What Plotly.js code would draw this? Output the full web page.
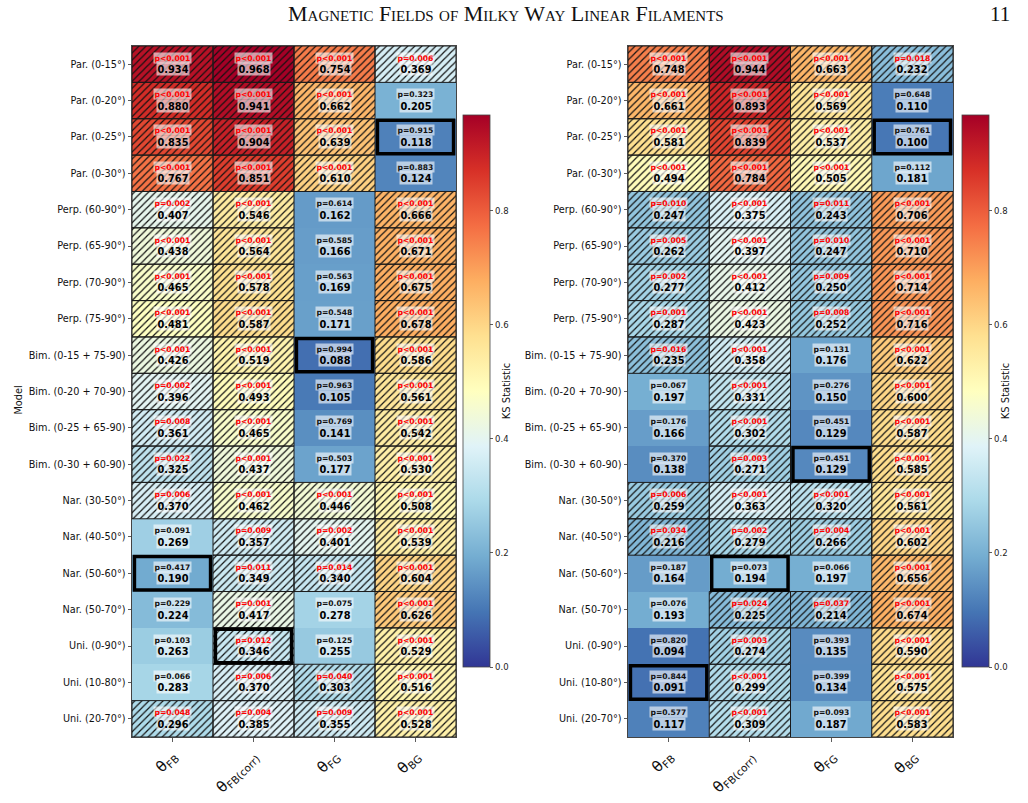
<!DOCTYPE html>
<html>
<head>
<meta charset="utf-8">
<script src="https://cdn.plot.ly/plotly-3.0.1.min.js"></script>
<style>
  html, body { margin: 0; padding: 0; background: #fff; }
  #chart { width: 1028px; height: 803px; }
</style>
</head>
<body>
<div id="chart"></div>
<script>
// Model families (rows) and angle comparisons (columns)
const models = [
  'Par. (0-15°)', 'Par. (0-20°)', 'Par. (0-25°)', 'Par. (0-30°)',
  'Perp. (60-90°)', 'Perp. (65-90°)', 'Perp. (70-90°)', 'Perp. (75-90°)',
  'Bim. (0-15 + 75-90)', 'Bim. (0-20 + 70-90)', 'Bim. (0-25 + 65-90)', 'Bim. (0-30 + 60-90)',
  'Nar. (30-50°)', 'Nar. (40-50°)', 'Nar. (50-60°)', 'Nar. (50-70°)',
  'Uni. (0-90°)', 'Uni. (10-80°)', 'Uni. (20-70°)'
];
const angleLabels = ['θ<sub>FB</sub>', 'θ<sub>FB(corr)</sub>', 'θ<sub>FG</sub>', 'θ<sub>BG</sub>'];

// KS statistic, left panel
const ksLeft = [
  [0.934, 0.968, 0.754, 0.369],
  [0.880, 0.941, 0.662, 0.205],
  [0.835, 0.904, 0.639, 0.118],
  [0.767, 0.851, 0.610, 0.124],
  [0.407, 0.546, 0.162, 0.666],
  [0.438, 0.564, 0.166, 0.671],
  [0.465, 0.578, 0.169, 0.675],
  [0.481, 0.587, 0.171, 0.678],
  [0.426, 0.519, 0.088, 0.586],
  [0.396, 0.493, 0.105, 0.561],
  [0.361, 0.465, 0.141, 0.542],
  [0.325, 0.437, 0.177, 0.530],
  [0.370, 0.462, 0.446, 0.508],
  [0.269, 0.357, 0.401, 0.539],
  [0.190, 0.349, 0.340, 0.604],
  [0.224, 0.417, 0.278, 0.626],
  [0.263, 0.346, 0.255, 0.529],
  [0.283, 0.370, 0.303, 0.516],
  [0.296, 0.385, 0.355, 0.528]
];
// p-values, left panel (0 means below 0.001)
const pLeft = [
  [0, 0, 0, 0.006],
  [0, 0, 0, 0.323],
  [0, 0, 0, 0.915],
  [0, 0, 0, 0.883],
  [0.002, 0, 0.614, 0],
  [0, 0, 0.585, 0],
  [0, 0, 0.563, 0],
  [0, 0, 0.548, 0],
  [0, 0, 0.994, 0],
  [0.002, 0, 0.963, 0],
  [0.008, 0, 0.769, 0],
  [0.022, 0, 0.503, 0],
  [0.006, 0, 0, 0],
  [0.091, 0.009, 0.002, 0],
  [0.417, 0.011, 0.014, 0],
  [0.229, 0.001, 0.075, 0],
  [0.103, 0.012, 0.125, 0],
  [0.066, 0.006, 0.040, 0],
  [0.048, 0.004, 0.009, 0]
];
// KS statistic, right panel
const ksRight = [
  [0.748, 0.944, 0.663, 0.232],
  [0.661, 0.893, 0.569, 0.110],
  [0.581, 0.839, 0.537, 0.100],
  [0.494, 0.784, 0.505, 0.181],
  [0.247, 0.375, 0.243, 0.706],
  [0.262, 0.397, 0.247, 0.710],
  [0.277, 0.412, 0.250, 0.714],
  [0.287, 0.423, 0.252, 0.716],
  [0.235, 0.358, 0.176, 0.622],
  [0.197, 0.331, 0.150, 0.600],
  [0.166, 0.302, 0.129, 0.587],
  [0.138, 0.271, 0.129, 0.585],
  [0.259, 0.363, 0.320, 0.561],
  [0.216, 0.279, 0.266, 0.602],
  [0.164, 0.194, 0.197, 0.656],
  [0.193, 0.225, 0.214, 0.674],
  [0.094, 0.274, 0.135, 0.590],
  [0.091, 0.299, 0.134, 0.575],
  [0.117, 0.309, 0.187, 0.583]
];
// p-values, right panel (0 means below 0.001)
const pRight = [
  [0, 0, 0, 0.018],
  [0, 0, 0, 0.648],
  [0, 0, 0, 0.761],
  [0, 0, 0, 0.112],
  [0.010, 0, 0.011, 0],
  [0.005, 0, 0.010, 0],
  [0.002, 0, 0.009, 0],
  [0.001, 0, 0.008, 0],
  [0.016, 0, 0.131, 0],
  [0.067, 0, 0.276, 0],
  [0.176, 0, 0.451, 0],
  [0.370, 0.003, 0.451, 0],
  [0.006, 0, 0, 0],
  [0.034, 0.002, 0.004, 0],
  [0.187, 0.073, 0.066, 0],
  [0.076, 0.024, 0.037, 0],
  [0.820, 0.003, 0.393, 0],
  [0.844, 0, 0.399, 0],
  [0.577, 0, 0.093, 0]
];
// Best-fitting model (row index) for each column
const bestLeft = [14, 16, 8, 2];
const bestRight = [17, 14, 11, 2];

const ALPHA = 0.05;
const KS_MAX = 0.968;

// matplotlib RdYlBu_r
const rdylbu_r = [
  [0.0, '#313695'], [0.1, '#4575b4'], [0.2, '#74add1'], [0.3, '#abd9e9'],
  [0.4, '#e0f3f8'], [0.5, '#ffffbf'], [0.6, '#fee090'], [0.7, '#fdae61'],
  [0.8, '#f46d43'], [0.9, '#d73027'], [1.0, '#a50026']
];

const W = 1028, H = 803;
const rowIdx = models.map((_, i) => i);
const colIdx = angleLabels.map((_, j) => j);

function panel(ks, pv, best, xa, ya, cbX) {
  const traces = [];
  traces.push({
    type: 'heatmap', z: ks, x: colIdx, y: rowIdx,
    xaxis: xa, yaxis: ya,
    colorscale: rdylbu_r, zmin: 0, zmax: KS_MAX,
    hoverinfo: 'skip',
    colorbar: {
      x: cbX / W, xanchor: 'left', xpad: 0,
      y: 1 - 115 / H, yanchor: 'top', ypad: 0,
      len: 552, lenmode: 'pixels', thickness: 27,
      outlinewidth: 0.8, outlinecolor: '#444',
      tickvals: [0, 0.2, 0.4, 0.6, 0.8], tickformat: '.1f',
      ticks: 'outside', ticklen: 3.5, tickwidth: 0.8, tickcolor: '#333',
      tickfont: { family: 'DejaVu Sans', size: 8.5, color: '#222' },
      title: { text: 'KS Statistic', side: 'right', font: { family: 'DejaVu Sans', size: 10, color: '#111' } }
    }
  });
  // hatched overlay on significant cells
  const hx = [], hb = [];
  pv.forEach((row, r) => row.forEach((p, c) => { if (p < ALPHA) { hx.push(c); hb.push(r - 0.5); } }));
  traces.push({
    type: 'bar', xaxis: xa, yaxis: ya, x: hx, y: hx.map(() => 1), base: hb, width: 1,
    hoverinfo: 'skip', showlegend: false,
    marker: {
      color: 'rgba(0,0,0,0)',
      line: { color: '#1a1a1a', width: 1 },
      pattern: { shape: '/', fgcolor: '#111', bgcolor: 'rgba(0,0,0,0)', size: 5, solidity: 0.24, fillmode: 'replace' }
    }
  });
  // outline on best-fitting model of each column
  traces.push({
    type: 'bar', xaxis: xa, yaxis: ya, x: colIdx, y: colIdx.map(() => 0.92),
    base: best.map(r => r - 0.46), width: 0.94,
    hoverinfo: 'skip', showlegend: false,
    marker: { color: 'rgba(0,0,0,0)', line: { color: '#000', width: 3.5 } }
  });

  const ann = [];
  ks.forEach((row, r) => row.forEach((v, c) => {
    const p = pv[r][c];
    const ptxt = p === 0 ? 'p<0.001' : 'p=' + p.toFixed(3);
    ann.push({
      xref: xa, yref: ya, x: c, y: r, yshift: 6.5, showarrow: false,
      text: '<b>' + ptxt + '</b>',
      font: { family: 'DejaVu Sans', size: 7.6, color: p < ALPHA ? '#ff0000' : '#111' },
      bgcolor: 'rgba(255,255,255,0.6)', borderpad: 0.5
    });
    ann.push({
      xref: xa, yref: ya, x: c, y: r, yshift: -5, showarrow: false,
      text: '<b>' + v.toFixed(3) + '</b>',
      font: { family: 'DejaVu Sans', size: 9.8, color: '#000' },
      bgcolor: 'rgba(255,255,255,0.6)', borderpad: 0.5
    });
  }));
  return { traces, ann };
}

const L = panel(ksLeft, pLeft, bestLeft, 'x', 'y', 463);
const R = panel(ksRight, pRight, bestRight, 'x2', 'y2', 962);

function xAxis(d0, d1, anchor) {
  return {
    domain: [d0 / W, d1 / W], anchor: anchor, range: [-0.5, 3.5],
    tickvals: colIdx, ticktext: angleLabels, tickangle: -45,
    ticks: 'outside', ticklen: 3.5, tickwidth: 0.8, tickcolor: '#333',
    tickfont: { family: 'DejaVu Sans', size: 15, color: '#111' },
    showline: true, mirror: true, linecolor: '#444', linewidth: 1,
    showgrid: false, zeroline: false, automargin: false, fixedrange: true
  };
}
function yAxis(anchor) {
  return {
    domain: [1 - 737 / H, 1 - 46 / H], anchor: anchor, range: [18.5, -0.5],
    tickvals: rowIdx, ticktext: models,
    ticks: 'outside', ticklen: 3.5, tickwidth: 0.8, tickcolor: '#333',
    tickfont: { family: 'DejaVu Sans', size: 9.7, color: '#111' },
    showline: true, mirror: true, linecolor: '#444', linewidth: 1,
    showgrid: false, zeroline: false, automargin: false, fixedrange: true
  };
}

const layout = {
  width: W, height: H,
  margin: { l: 0, r: 0, t: 0, b: 0 },
  paper_bgcolor: '#fff', plot_bgcolor: '#fff',
  showlegend: false, barmode: 'overlay',
  xaxis: xAxis(132, 456, 'y'),
  yaxis: yAxis('x'),
  xaxis2: xAxis(628, 953, 'y2'),
  yaxis2: yAxis('x2'),
  annotations: [
    {
      xref: 'paper', yref: 'paper', x: 506 / W, y: 1 - 14 / H, yanchor: 'middle', showarrow: false,
      text: 'Magnetic Fields of Milky Way Linear Filaments',
      font: { family: 'Liberation Serif', size: 22, color: '#111', variant: 'small-caps' }
    },
    {
      xref: 'paper', yref: 'paper', x: 1012 / W, y: 1 - 14 / H, yanchor: 'middle', showarrow: false,
      text: '11', font: { family: 'Liberation Serif', size: 21, color: '#111' }
    },
    {
      xref: 'paper', yref: 'paper', x: 10 / W, y: 1 - 400 / H, showarrow: false, textangle: -90,
      text: 'Model', font: { family: 'DejaVu Sans', size: 9.7, color: '#111' }
    }
  ].concat(L.ann, R.ann)
};

Plotly.newPlot('chart', L.traces.concat(R.traces), layout, { displayModeBar: false, staticPlot: true });
</script>
</body>
</html>
